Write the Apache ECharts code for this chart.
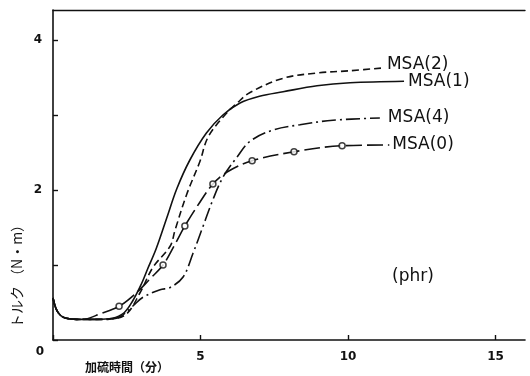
<!DOCTYPE html>
<html>
<head>
<meta charset="utf-8">
<script src="https://cdn.jsdelivr.net/npm/echarts@6/dist/echarts.min.js"></script>
<style>
  html, body {margin: 0; padding: 0; background: #fff;}
  #chart {width: 530px; height: 376px;}
</style>
</head>
<body>
<div id="chart"></div>
<script>
// common start of all curves (minutes, N·m)
const baseline = [[0, 0.56], [0.1, 0.42], [0.25, 0.33], [0.45, 0.29], [0.8, 0.275]];

const msa1 = [[1.5, 0.275], [2.0, 0.29], [2.4, 0.36], [2.7, 0.52], [3.0, 0.75], [3.2, 0.94], [3.5, 1.22],
    [3.85, 1.62], [4.2, 2.02], [4.64, 2.4], [5.2, 2.76], [5.76, 3.0], [6.34, 3.16], [7.0, 3.25],
    [7.8, 3.31], [8.95, 3.39], [10.07, 3.43], [11.9, 3.45]];

const msa2 = [[1.5, 0.275], [2.0, 0.28], [2.5, 0.35], [2.95, 0.63], [3.39, 0.97], [3.97, 1.25], [4.14, 1.47],
    [4.54, 1.95], [4.98, 2.38], [5.25, 2.7], [5.76, 2.97], [6.27, 3.17], [6.68, 3.3], [7.8, 3.49],
    [8.95, 3.56], [10.07, 3.59], [11.25, 3.63]];

const msa4 = [[1.8, 0.275], [2.27, 0.31], [2.7, 0.45], [3.05, 0.57], [3.63, 0.67], [3.97, 0.7], [4.41, 0.84],
    [4.75, 1.16], [5.08, 1.51], [5.42, 1.87], [5.76, 2.17], [6.24, 2.44], [6.68, 2.65], [7.46, 2.8],
    [8.37, 2.87], [9.49, 2.93], [11.08, 2.96]];

const msa0 = [[1.1, 0.28], [1.6, 0.35], [2.24, 0.45], [2.8, 0.62], [3.3, 0.82], [3.73, 1.0], [4.1, 1.25],
    [4.47, 1.52], [4.95, 1.82], [5.42, 2.08], [5.9, 2.24], [6.75, 2.39], [8.17, 2.51], [9.8, 2.59],
    [11.4, 2.6]];
const msa0Marks = [[2.24, 0.45], [3.73, 1.0], [4.47, 1.52], [5.42, 2.08], [6.75, 2.39], [8.17, 2.51], [9.8, 2.59]];

const xTicks = [5, 10, 15];
const yTicks = [2, 4];

const chart = echarts.init(document.getElementById('chart'));
const ink = '#111';

const curve = (name, data, dash, labelOffset, dist) => ({
    name: name,
    type: 'line',
    data: baseline.concat(data),
    smooth: 0.35,
    symbol: 'none',
    lineStyle: {color: ink, width: 1.6, type: dash},
    endLabel: {
        show: true,
        formatter: '{a}',
        color: ink,
        fontFamily: 'DejaVu Sans',
        fontSize: 17,
        distance: dist,
        offset: labelOffset
    },
    z: 3
});

chart.setOption({
    animation: false,
    backgroundColor: '#fff',
    grid: {left: 53, top: 10, right: 5, bottom: 36, containLabel: false, outerBoundsMode: 'none'},
    xAxis: [{
        type: 'value', min: 0, max: 16, interval: 5,
        axisLine: {show: true, lineStyle: {color: ink, width: 1.6}},
        axisTick: {show: true, inside: true, length: 5, lineStyle: {color: ink, width: 1.4}},
        splitLine: {show: false},
        axisLabel: {
            color: ink, fontSize: 12, fontWeight: 'bold', fontFamily: 'DejaVu Sans', margin: 11,
            showMaxLabel: false,
            formatter: v => xTicks.includes(v) ? String(v) : ''
        }
    }, {
        type: 'value', min: 0, max: 16, position: 'top',
        axisLine: {show: true, lineStyle: {color: ink, width: 1.4}},
        axisTick: {show: false}, axisLabel: {show: false}, splitLine: {show: false}
    }],
    yAxis: {
        type: 'value', min: 0, max: 4.4, interval: 1,
        axisLine: {show: true, lineStyle: {color: ink, width: 1.6}},
        axisTick: {show: true, inside: true, length: 5, lineStyle: {color: ink, width: 1.4}},
        splitLine: {show: false},
        axisLabel: {
            color: ink, fontSize: 12, fontWeight: 'bold', fontFamily: 'DejaVu Sans', margin: 11,
            showMaxLabel: false,
            formatter: v => yTicks.includes(v) ? String(v) : ''
        }
    },
    graphic: [
        {type: 'text', x: 40, y: 352, style: {text: '0', fill: ink, font: 'bold 12px "DejaVu Sans"', textAlign: 'center', textVerticalAlign: 'middle'}},
        {type: 'text', x: 127, y: 367, style: {text: '加硫時間（分）', fill: ink, font: 'bold 12px "Noto Sans CJK JP"', textAlign: 'center', textVerticalAlign: 'middle'}},
        {type: 'text', x: 17, y: 273, rotation: Math.PI / 2, style: {text: 'トルク （N・m）', fill: ink, font: '14px "Noto Sans CJK JP"', textAlign: 'center', textVerticalAlign: 'middle'}},
        {type: 'text', x: 392, y: 277, style: {text: '(phr)', fill: ink, font: '17px "DejaVu Sans"', textAlign: 'left', textVerticalAlign: 'middle'}}
    ],
    series: [
        curve('MSA(1)', msa1, 'solid', [0, 0], 4),
        curve('MSA(2)', msa2, [7, 4], [0, -3], 2),
        curve('MSA(4)', msa4, [14, 4, 2, 4], [0, 0], 8),
        curve('MSA(0)', msa0, [16, 5], [0, 0], 3),
        {
            name: 'marks',
            type: 'scatter',
            data: msa0Marks,
            symbol: 'circle',
            symbolSize: 6,
            itemStyle: {color: '#fff', borderColor: ink, borderWidth: 1.5},
            z: 4
        }
    ]
});
</script>
</body>
</html>
